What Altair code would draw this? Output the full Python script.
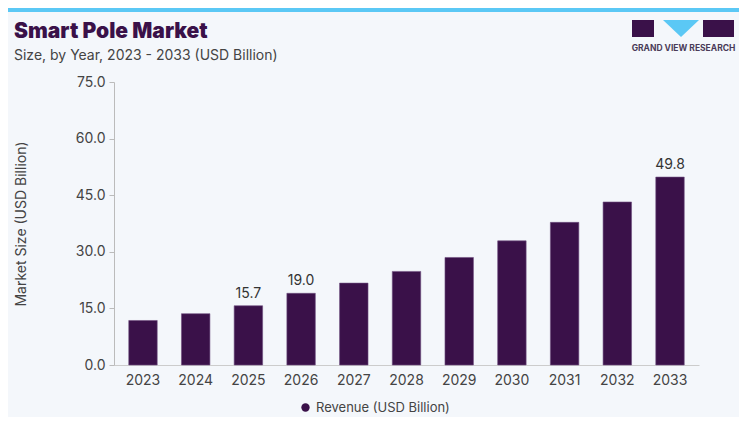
import altair as alt
import pandas as pd

years = ["2023", "2024", "2025", "2026", "2027", "2028", "2029", "2030", "2031", "2032", "2033"]
revenue = [11.8, 13.6, 15.7, 19.0, 21.7, 24.8, 28.5, 32.9, 37.8, 43.2, 49.8]
shown_labels = ["", "", "15.7", "19.0", "", "", "", "", "", "", "49.8"]
series_name = "Revenue (USD Billion)"
y_ticks = [0, 15, 30, 45, 60, 75]

BAR = "#3A1149"
TXT = "#444444"
FONT = "Inter"

df = pd.DataFrame({"year": years, "value": revenue, "label": shown_labels,
                   "series": [series_name] * len(years)})
one = pd.DataFrame({"k": [0]})

x_enc = alt.X("year:N", sort=years, title=None,
              scale=alt.Scale(paddingInner=0.46, paddingOuter=0.28),
              axis=alt.Axis(labelAngle=0, ticks=False, labelFontSize=14, labelColor=TXT,
                            labelPadding=8, domainColor="#CCCCCC", labelFont=FONT))
y_enc = alt.Y("value:Q", title="Market Size (USD Billion)",
              scale=alt.Scale(domain=[0, 75], nice=False),
              axis=alt.Axis(values=y_ticks, format=".1f", grid=False, tickSize=5,
                            tickColor="#BBBBBB", domainColor="#BBBBBB", labelFontSize=14,
                            labelColor=TXT, labelPadding=4, titleFontSize=14,
                            titleFontWeight="normal", titleColor=TXT, titlePadding=47,
                            labelFont=FONT, titleFont=FONT))

bars = alt.Chart(df).mark_bar(stroke="#6E4F80", strokeWidth=0.6).encode(
    x=x_enc, y=y_enc,
    color=alt.Color("series:N", scale=alt.Scale(domain=[series_name], range=[BAR]),
                    legend=alt.Legend(title=None, orient="none", legendX=185, legendY=319,
                                      symbolType="circle", symbolSize=70, labelFontSize=13,
                                      labelColor=TXT, labelFont=FONT, padding=0,
                                      symbolStrokeWidth=0)),
)

labels = alt.Chart(df).mark_text(baseline="bottom", dy=-5, fontSize=14, color="#333333",
                                 font=FONT).encode(
    x=alt.X("year:N", sort=years), y="value:Q", text="label:N")

stripe = alt.Chart(one).mark_rect(color="#5BC8F5").encode(
    x=alt.value(-106), x2=alt.value(625), y=alt.value(-74), y2=alt.value(-70))

title = alt.Chart(one).mark_text(align="left", baseline="alphabetic", fontSize=21,
                                 fontWeight=900, color="#3A1149", font=FONT).encode(
    x=alt.value(-100), y=alt.value(-44), text=alt.value("Smart Pole Market"))
subtitle = alt.Chart(one).mark_text(align="left", baseline="alphabetic", fontSize=14,
                                    color=TXT, font=FONT).encode(
    x=alt.value(-100), y=alt.value(-22),
    text=alt.value("Size, by Year, 2023 - 2033 (USD Billion)"))

logo_l = alt.Chart(one).mark_rect(color="#3A1149").encode(
    x=alt.value(518), x2=alt.value(540), y=alt.value(-62), y2=alt.value(-45))
logo_r = alt.Chart(one).mark_rect(color="#3A1149").encode(
    x=alt.value(589), x2=alt.value(620), y=alt.value(-62), y2=alt.value(-45))
logo_t = alt.Chart(one).mark_point(shape="M-1,-0.47L1,-0.47L0,0.47Z", filled=True,
                                   color="#5BC8F5", opacity=1, size=1296).encode(
    x=alt.value(567), y=alt.value(-53.5))
logo_txt = alt.Chart(one).mark_text(align="center", baseline="middle", fontSize=8.5,
                                    fontWeight="bold", color="#4A3B58", font=FONT).encode(
    x=alt.value(569.5), y=alt.value(-34), text=alt.value("GRAND VIEW RESEARCH"))

chart = alt.layer(stripe, bars, labels, title, subtitle, logo_l, logo_r, logo_t, logo_txt).properties(
    width=585, height=283,
    autosize=alt.AutoSizeParams(type="none"),
    padding={"left": 106, "top": 74, "right": 40, "bottom": 52},
    background="#F4F7FB",
).configure_view(stroke=None)

chart.save("out.html", embed_options={"renderer": "svg", "actions": False})
